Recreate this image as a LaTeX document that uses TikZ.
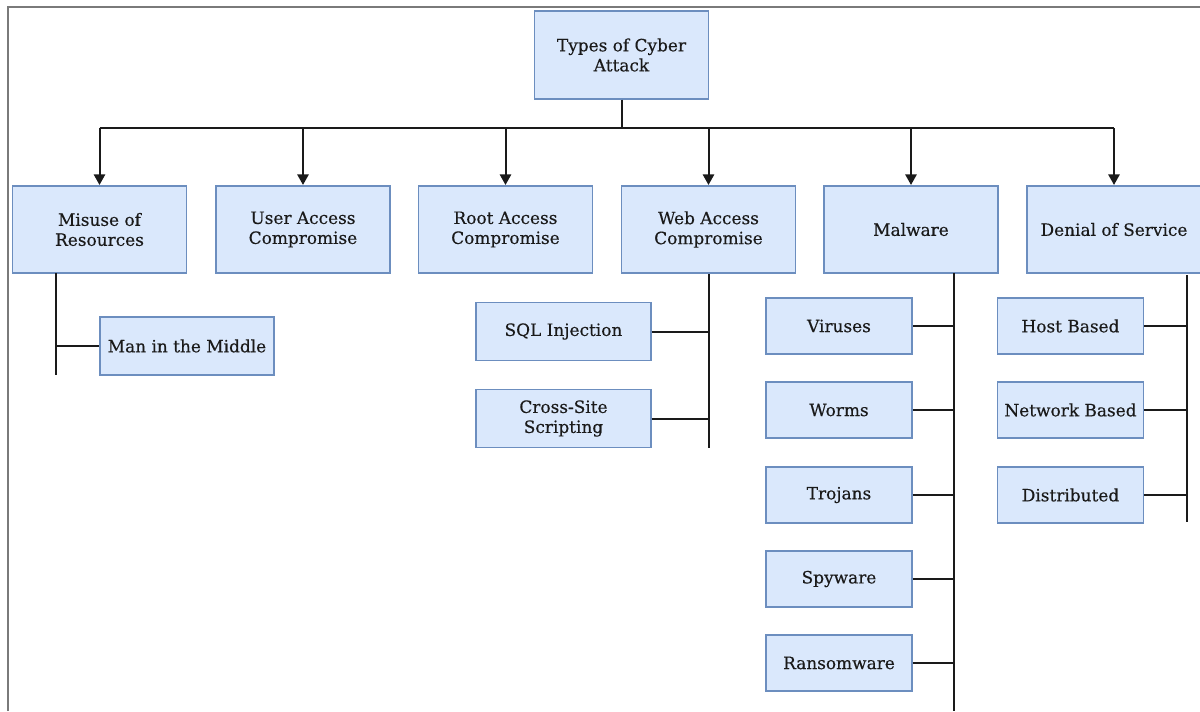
\documentclass[tikz,border=0pt]{standalone}
\usepackage{fontspec}
\setmainfont{DejaVu Serif}
\newfontfamily\boxfont[FakeBold=0.35]{DejaVu Serif}
\usetikzlibrary{arrows.meta}
\definecolor{boxfill}{HTML}{DAE8FC}
\definecolor{boxline}{HTML}{6C8EBF}
\definecolor{ink}{HTML}{1A1A1A}
\definecolor{frame}{HTML}{7A7A7A}
\begin{document}
\begin{tikzpicture}[x=0.75pt,y=-0.75pt,
  box/.style={draw=boxline, fill=boxfill, line width=1.3pt, inner sep=0pt, align=center,
    font=\boxfont\fontsize{12.7}{15}\selectfont, text=ink},
  big/.style={box, minimum width=130.5pt, minimum height=65.5pt},
  mid/.style={box, minimum width=131pt, minimum height=43.5pt},
  small/.style={box, minimum width=109.5pt, minimum height=42pt},
  wire/.style={draw=ink, line width=1.5pt},
  arr/.style={wire, -{Triangle[width=8.5pt,length=8pt]}},
  framel/.style={draw=frame, line width=1.3pt}
]
\useasboundingbox (0,0) rectangle (1200,711);
% frame
\coordinate (f1) at (8,711);
\coordinate (f2) at (8,7);
\coordinate (f3) at (1200,7);
\draw[framel] (f1) -- (f2) -- (f3);

% root
\node[big] (root) at (621.5,55) {Types of Cyber\\Attack};

% level 1
\node[big] (misuse) at (99.5,229.5) {Misuse of\\Resources};
\node[big] (user)   at (303,229.5)  {User Access\\Compromise};
\node[big] (rootac) at (505.5,229.5) {Root Access\\Compromise};
\node[big] (web)    at (708.5,229.5) {Web Access\\Compromise};
\node[big] (mal)    at (911,229.5)  {Malware};
\node[big] (dos)    at (1114,229.5) {Denial of Service};

% bus
\coordinate (bus) at (621.5,128);
\draw[wire] (root.south) -- (bus);
\draw[wire] (misuse.north |- bus) -- (dos.north |- bus);
\foreach \n in {misuse,user,rootac,web,mal,dos}
  \draw[arr] (\n.north |- bus) -- (\n.north);

% Misuse children
\node[mid] (mitm) at (187,346) {Man in the Middle};
\coordinate (mtop) at (56,273);
\coordinate (mbot) at (56,375);
\draw[wire] (mtop) -- (mbot);
\draw[wire] (mitm.west) -- (mtop |- mitm.west);

% Web children
\node[mid] (sql)   at (563.5,331.5) {SQL Injection};
\node[mid] (xss)   at (563.5,418.5) {Cross-Site\\Scripting};
\coordinate (wbot) at (708.5,448);
\draw[wire] (web.south) -- (wbot);
\draw[wire] (sql.east) -- (wbot |- sql.east);
\draw[wire] (xss.east) -- (wbot |- xss.east);

% Malware children
\node[small] (vir)  at (839,326) {Viruses};
\node[small] (worm) at (839,410) {Worms};
\node[small] (troj) at (839,495) {Trojans};
\node[small] (spy)  at (839,579) {Spyware};
\node[small] (ran)  at (839,663) {Ransomware};
\coordinate (ltop) at (954,273);
\coordinate (lbot) at (954,711);
\draw[wire] (ltop) -- (lbot);
\foreach \n in {vir,worm,troj,spy,ran}
  \draw[wire] (\n.east) -- (ltop |- \n.east);

% DoS children
\node[small] (host) at (1070.5,326) {Host Based};
\node[small] (net)  at (1070.5,410) {Network Based};
\node[small] (dist) at (1070.5,495) {Distributed};
\coordinate (dtop) at (1187,275);
\coordinate (dbot) at (1187,522);
\draw[wire] (dtop) -- (dbot);
\foreach \n in {host,net,dist}
  \draw[wire] (\n.east) -- (dtop |- \n.east);
\end{tikzpicture}
\end{document}
